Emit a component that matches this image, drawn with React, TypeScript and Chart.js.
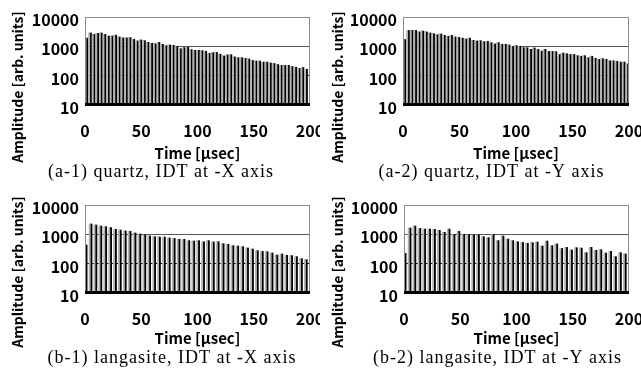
import React, { useEffect, useRef } from "react";
import { Chart, registerables } from "chart.js";

Chart.register(...registerables);

// ---------- data ----------
const timeTicks = [0, 50, 100, 150, 200];
const ampTicks = [10, 100, 1000, 10000];

const quartzXTimes = [
  1.0, 4.2, 7.4, 10.6, 13.8, 17.0, 20.2, 23.4, 26.6, 29.8, 33.0, 36.2, 39.4, 42.6, 45.8, 49.0,
  52.2, 55.4, 58.6, 61.8, 65.0, 68.2, 71.4, 74.6, 77.8, 81.0, 84.2, 87.4, 90.6, 93.8, 97.0,
  100.2, 103.4, 106.6, 109.8, 113.0, 116.2, 119.4, 122.6, 125.8, 129.0, 132.2, 135.4, 138.6,
  141.8, 145.0, 148.2, 151.4, 154.6, 157.8, 161.0, 164.2, 167.4, 170.6, 173.8, 177.0, 180.2,
  183.4, 186.6, 189.8, 193.0, 196.2,
];
const quartzXAmps = [
  1900, 2850, 2570, 2770, 2850, 2570, 2250, 2250, 2400, 2080, 1940, 1940, 1980, 1740, 1520, 1650,
  1560, 1370, 1270, 1230, 1370, 1170, 1050, 1110, 1080, 980, 830, 900, 930, 770, 730, 730, 710,
  680, 580, 610, 620, 540, 470, 510, 520, 435, 410, 410, 390, 370, 330, 315, 315, 290, 290, 270,
  260, 240, 225, 225, 225, 205, 195, 175, 190, 165,
];

const quartzYTimes = [
  1.0, 4.2, 7.4, 10.5, 13.7, 16.9, 20.1, 23.3, 26.4, 29.6, 32.8, 36.0, 39.2, 42.3, 45.5, 48.7,
  51.9, 55.1, 58.2, 61.4, 64.6, 67.8, 71.0, 74.1, 77.3, 80.5, 83.7, 86.9, 90.0, 93.2, 96.4, 99.6,
  102.8, 105.9, 109.1, 112.3, 115.5, 118.7, 121.8, 125.0, 128.2, 131.4, 134.6, 137.7, 140.9,
  144.1, 147.3, 150.5, 153.6, 156.8, 160.0, 163.2, 166.4, 169.5, 172.7, 175.9, 179.1, 182.3,
  185.4, 188.6, 191.8, 195.0, 198.2,
];
const quartzYAmps = [
  1700, 3500, 3500, 3500, 3100, 3330, 3100, 2850, 2700, 2500, 2630, 2370, 2200, 2370, 2080, 2020,
  1900, 1780, 1900, 1600, 1520, 1560, 1440, 1480, 1330, 1200, 1330, 1170, 1170, 1110, 1000, 1050,
  1000, 900, 900, 790, 880, 790, 690, 790, 670, 670, 660, 530, 590, 560, 530, 530, 480, 460, 480,
  410, 460, 390, 360, 380, 360, 320, 320, 310, 290, 290, 250,
];

const langasiteTimes = [
  0.3, 4.7, 9.0, 13.4, 17.7, 22.1, 26.4, 30.7, 35.1, 39.4, 43.8, 48.1, 52.5, 56.8, 61.2, 65.5,
  69.9, 74.2, 78.6, 82.9, 87.3, 91.6, 96.0, 100.3, 104.7, 109.0, 113.4, 117.7, 122.1, 126.4,
  130.8, 135.1, 139.5, 143.8, 148.2, 152.5, 156.9, 161.2, 165.6, 169.9, 174.3, 178.6, 183.0,
  187.3, 191.7, 196.0,
];
const langasiteXAmps = [
  433, 2250, 2080, 1920, 1820, 1690, 1480, 1400, 1300, 1270, 1110, 1025, 950, 880, 830, 810, 810,
  750, 730, 675, 675, 610, 590, 610, 560, 610, 550, 560, 480, 455, 410, 400, 380, 342, 316, 277,
  262, 255, 231, 197, 214, 193, 188, 173, 148, 137,
];
const langasiteYAmps = [
  225, 1640, 1920, 1590, 1510, 1510, 1480, 1370, 1170, 1510, 1000, 1270, 1000, 975, 950, 950, 830,
  770, 1000, 610, 880, 690, 610, 560, 530, 490, 520, 545, 400, 590, 410, 470, 330, 360, 292, 350,
  340, 237, 360, 285, 300, 231, 262, 174, 237, 214,
];

const yTitle = "Amplitude [arb. units]";
const xTitle = "Time [μsec]";
const captions = [
  "(a-1) quartz, IDT at -X axis",
  "(a-2) quartz, IDT at -Y axis",
  "(b-1) langasite, IDT at -X axis",
  "(b-2) langasite, IDT at -Y axis",
];

const SANS = '"Noto Sans CJK JP", "Noto Sans", sans-serif';
const SERIF = '"Liberation Serif", "DejaVu Serif", serif';

// ---------- layout ----------
type Panel = {
  times: number[];
  amps: number[];
  caption: string;
  left: number;
  top: number;
  w: number;
  h: number;
  axisW: number;
  padTop: number;
  plotBottom: number;
  padRight: number;
  xTitleY: number;
  yTitleX: number;
  yTitleY: number;
  captionX: number;
  captionY: number;
};

const panels: Panel[] = [
  { times: quartzXTimes, amps: quartzXAmps, caption: captions[0], left: 0, top: 0, w: 320, h: 186, axisW: 85, padTop: 17, plotBottom: 105, padRight: 10, xTitleY: 153, yTitleX: 18, yTitleY: 87, captionX: 161, captionY: 172 },
  { times: quartzYTimes, amps: quartzYAmps, caption: captions[1], left: 320, top: 0, w: 321, h: 186, axisW: 83, padTop: 17, plotBottom: 105, padRight: 12, xTitleY: 153, yTitleX: 18, yTitleY: 87, captionX: 171.5, captionY: 172 },
  { times: langasiteTimes, amps: langasiteXAmps, caption: captions[2], left: 0, top: 186, w: 320, h: 186, axisW: 85, padTop: 19, plotBottom: 107, padRight: 10, xTitleY: 152, yTitleX: 18, yTitleY: 86, captionX: 172, captionY: 172 },
  { times: langasiteTimes, amps: langasiteYAmps, caption: captions[3], left: 320, top: 186, w: 321, h: 186, axisW: 84, padTop: 19, plotBottom: 107, padRight: 12, xTitleY: 152, yTitleX: 18, yTitleY: 86, captionX: 177.5, captionY: 172 },
];

const framePlugin = {
  id: "panelFrame",
  afterDatasetsDraw(chart: any) {
    const { ctx, chartArea: a } = chart;
    ctx.save();
    ctx.strokeStyle = "#8c8c8c";
    ctx.lineWidth = 1;
    ctx.strokeRect(a.left + 0.5, a.top + 0.5, a.right - a.left - 1, a.bottom - a.top);
    ctx.strokeStyle = "#000";
    ctx.lineWidth = 3;
    ctx.beginPath();
    ctx.moveTo(a.left, a.bottom - 0.5);
    ctx.lineTo(a.right, a.bottom - 0.5);
    ctx.stroke();
    ctx.restore();
  },
};

const textPlugin = {
  id: "panelText",
  afterDraw(chart: any, _args: any, opts: any) {
    const { ctx, chartArea: a } = chart;
    ctx.save();
    ctx.fillStyle = "#000";
    ctx.textAlign = "center";
    ctx.textBaseline = "middle";
    ctx.font = `bold 15px ${SANS}`;
    ctx.fillText(xTitle, (a.left + a.right) / 2, opts.xTitleY);
    ctx.save();
    ctx.translate(opts.yTitleX, opts.yTitleY);
    ctx.rotate(-Math.PI / 2);
    ctx.font = `bold 14px ${SANS}`;
    ctx.fillText(yTitle, 0, 0);
    ctx.restore();
    ctx.font = `18px ${SERIF}`;
    try {
      (ctx as any).letterSpacing = "1px";
    } catch (e) {}
    ctx.fillText(opts.caption, opts.captionX, opts.captionY);
    ctx.restore();
  },
};

function PanelChart({ p }: { p: Panel }) {
  const ref = useRef<HTMLCanvasElement | null>(null);
  useEffect(() => {
    if (!ref.current) return;
    const pts = p.times.map((t, i) => ({ x: t, y: p.amps[i] }));
    const tickFont = { family: SANS, size: 16, weight: "bold" as const };
    const chart = new Chart(ref.current, {
      type: "bar",
      data: {
        datasets: [
          { label: "halo", data: pts, backgroundColor: "#b4b4b4", barThickness: 1.2 },
          { label: "echo", data: pts, backgroundColor: "#000", barThickness: 1.8 },
        ],
      },
      options: {
        animation: false,
        responsive: false,
        devicePixelRatio: 1,
        layout: { padding: { left: 0, right: p.padRight, top: p.padTop, bottom: 0 } },
        plugins: {
          legend: { display: false },
          tooltip: { enabled: false },
          panelText: {
            caption: p.caption,
            captionX: p.captionX,
            captionY: p.captionY,
            xTitleY: p.xTitleY,
            yTitleX: p.yTitleX,
            yTitleY: p.yTitleY,
          },
        } as any,
        scales: {
          x: {
            type: "linear",
            min: 0,
            max: 200,
            offset: false,
            grid: { display: false, offset: false },
            border: { display: false },
            afterBuildTicks: (s: any) => {
              s.ticks = timeTicks.map((v) => ({ value: v }));
            },
            afterFit: (s: any) => {
              s.height = p.h - p.plotBottom;
              s.paddingLeft = 0;
              s.paddingRight = 0;
            },
            ticks: { font: tickFont, color: "#000", padding: 8, maxRotation: 0, autoSkip: false },
          },
          y: {
            type: "logarithmic",
            min: 10,
            max: 10000,
            beginAtZero: false,
            afterBuildTicks: (s: any) => {
              s.ticks = ampTicks.map((v) => ({ value: v }));
            },
            afterFit: (s: any) => {
              s.width = p.axisW;
              s.paddingTop = 0;
              s.paddingBottom = 0;
            },
            grid: {
              drawTicks: false,
              lineWidth: 1,
              color: (c: any) =>
                c.tick && c.tick.value === 1000 ? "#555" : c.tick && c.tick.value === 100 ? "#111" : "rgba(0,0,0,0)",
            },
            border: { display: false },
            ticks: {
              font: tickFont,
              color: "#000",
              padding: 6,
              labelOffset: 3,
              autoSkip: false,
              callback: (v: any) => String(v),
            },
          },
        },
      } as any,
      plugins: [framePlugin, textPlugin],
    });
    return () => chart.destroy();
  }, [p]);
  return (
    <canvas
      ref={ref}
      width={p.w}
      height={p.h}
      style={{ position: "absolute", left: p.left, top: p.top, width: p.w, height: p.h }}
    />
  );
}

export default function App() {
  return (
    <div style={{ position: "absolute", left: 0, top: 0, width: 641, height: 372, background: "#fff", overflow: "hidden" }}>
      {panels.map((p, i) => (
        <PanelChart key={i} p={p} />
      ))}
    </div>
  );
}
